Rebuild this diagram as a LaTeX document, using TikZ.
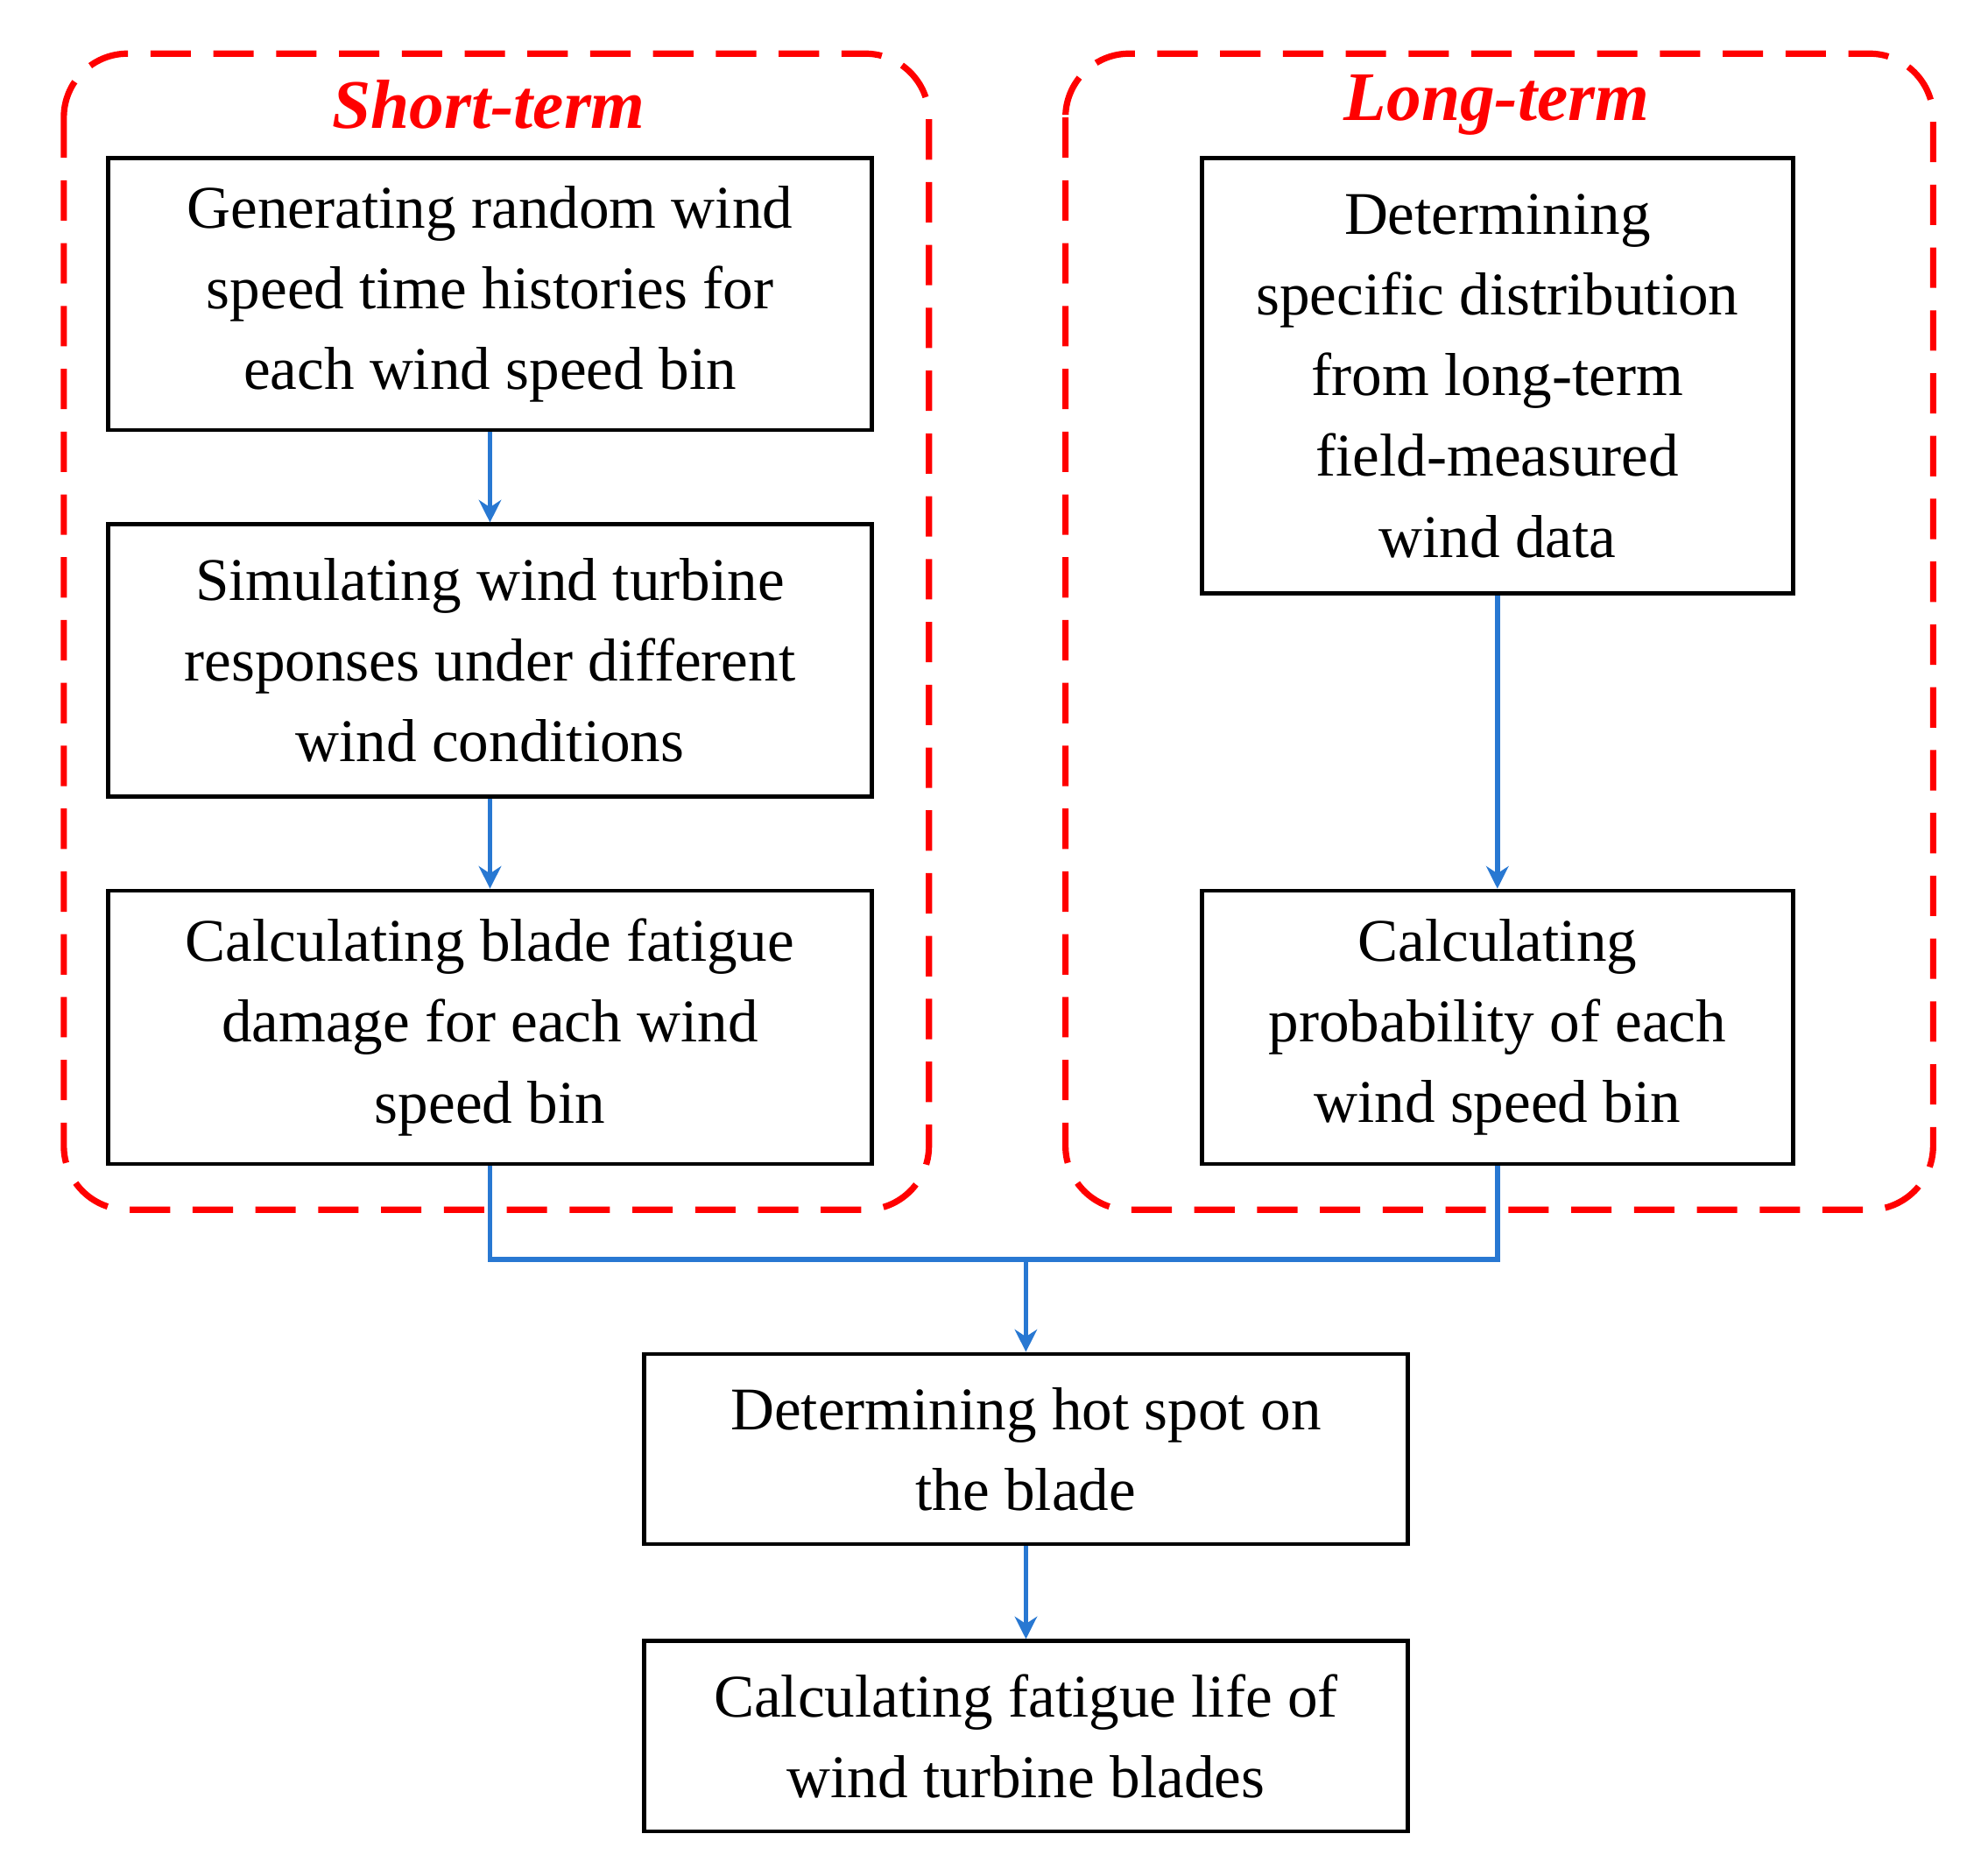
\documentclass[tikz,border=0pt]{standalone}
\usepackage{fontspec}
\setmainfont{Liberation Serif}
\usetikzlibrary{arrows.meta}
\definecolor{lblue}{RGB}{40,120,210}
\begin{document}
\begin{tikzpicture}[x=0.01cm,y=-0.01cm,
  box/.style={draw=black,line width=0.9pt,inner sep=0pt,align=center,
    font=\fontsize{13.5}{18}\selectfont},
  grp/.style={draw=red,line width=1.4pt,dash pattern=on 9pt off 5pt,rounded corners=0.5cm},
  ttl/.style={text=red,font=\fontsize{15.5}{18}\selectfont\bfseries\itshape},
  arr/.style={draw=lblue,line width=1.1pt,-{Stealth[length=5pt,width=5pt]}},
  ln/.style={draw=lblue,line width=1.1pt}]
\useasboundingbox (0,0) rectangle (1558,1459);
\draw[grp] (50,42) rectangle (728,948);
\draw[grp] (835,42) rectangle (1515,948);
\node[ttl] (t1) at (383,82) {Short-term};
\node[ttl] (t2) at (1173,82) {Long-term};
\node[box,minimum width=5.98cm,minimum height=2.13cm] (a1) at (384,230.5) {Generating random wind\\speed time histories for\\each wind speed bin};
\node[box,minimum width=5.98cm,minimum height=2.13cm] (a2) at (384,517.5) {Simulating wind turbine\\responses under different\\wind conditions};
\node[box,minimum width=5.98cm,minimum height=2.14cm] (a3) at (384,805) {Calculating blade fatigue\\damage for each wind\\speed bin};
\node[box,minimum width=4.63cm,minimum height=3.41cm] (b1) at (1173.5,294.5) {Determining\\specific distribution\\from long-term\\field-measured\\wind data};
\node[box,minimum width=4.63cm,minimum height=2.14cm] (b2) at (1173.5,805) {Calculating\\probability of each\\wind speed bin};
\node[box,minimum width=5.98cm,minimum height=1.49cm] (c1) at (804,1135.5) {Determining hot spot on\\the blade};
\node[box,minimum width=5.98cm,minimum height=1.49cm] (c2) at (804,1360.5) {Calculating fatigue life of\\wind turbine blades};
\coordinate (m) at (804,987);
\draw[arr] (a1) -- (a2);
\draw[arr] (a2) -- (a3);
\draw[arr] (b1) -- (b2);
\draw[ln] (a3.south) |- (m);
\draw[ln] (b2.south) |- (m);
\draw[arr] (m) -- (c1);
\draw[arr] (c1) -- (c2);
\end{tikzpicture}
\end{document}
